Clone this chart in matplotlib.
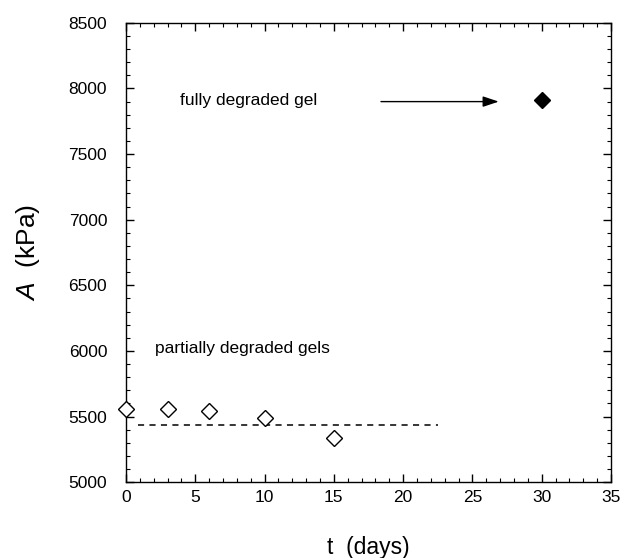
import matplotlib.pyplot as plt
from matplotlib.ticker import MultipleLocator

plt.rcParams['font.family'] = ['Liberation Sans', 'DejaVu Sans']
plt.rcParams['mathtext.fontset'] = 'custom'
plt.rcParams['mathtext.it'] = 'Liberation Sans:italic'
plt.rcParams['mathtext.rm'] = 'Liberation Sans'

# partially degraded gels
t_partial = [0, 3, 6, 10, 15]
A_partial = [5556, 5556, 5543, 5485, 5333]
# fully degraded gel
t_full = [30]
A_full = [7910]
# mean line of partially degraded gels
mean_t = [0.9, 22.5]
mean_A = [5437, 5437]

fig = plt.figure(figsize=(6.2, 5.58), dpi=100)
ax = fig.add_axes([0.2032, 0.136, 0.7823, 0.823])

ax.plot(t_partial, A_partial, linestyle='none', marker='D', markersize=8,
        markerfacecolor='white', markeredgecolor='black', markeredgewidth=1.0,
        clip_on=False, zorder=3)
ax.plot(t_full, A_full, linestyle='none', marker='D', markersize=8,
        color='black', zorder=3)
ax.plot(mean_t, mean_A, linestyle=(0, (4, 3.5)), color='black', linewidth=1.1)

ax.annotate('', xy=(26.9, 7900), xytext=(18.4, 7900),
            arrowprops=dict(arrowstyle='-|>,head_length=0.6,head_width=0.2',
                            color='black', lw=1.0, mutation_scale=16,
                            shrinkA=0, shrinkB=0))
ax.text(3.9, 7910, 'fully degraded gel', fontsize=12.5, va='center', ha='left')
ax.text(2.1, 6015, 'partially degraded gels', fontsize=12.5, va='center', ha='left')

ax.set_xlim(0, 35)
ax.set_ylim(5000, 8500)
ax.xaxis.set_major_locator(MultipleLocator(5))
ax.xaxis.set_minor_locator(MultipleLocator(1))
ax.yaxis.set_major_locator(MultipleLocator(500))
ax.yaxis.set_minor_locator(MultipleLocator(100))
ax.tick_params(which='both', direction='in', top=True, right=True, labelsize=12.5)
ax.tick_params(which='major', length=6, width=1)
ax.tick_params(which='minor', length=3, width=0.8)
ax.tick_params(axis='x', pad=6)
ax.tick_params(axis='y', pad=13.5)
for s in ax.spines.values():
    s.set_linewidth(1.0)

ax.set_xlabel('t  (days)', fontsize=16.5, labelpad=22)
ax.set_ylabel(r'$\mathit{A}$  (kPa)', fontsize=19, labelpad=19)

fig.savefig('out.png', dpi=100)
